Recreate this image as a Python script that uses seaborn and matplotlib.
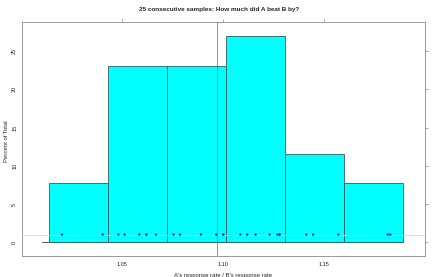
import numpy as np
import pandas as pd
import matplotlib
matplotlib.use("Agg")
import matplotlib.pyplot as plt
import seaborn as sns

# Data: 26 ratios (A's response rate / B's response rate)
ratios = [1.0203, 1.0404,
          1.0482, 1.0513, 1.0586, 1.0620, 1.0620, 1.0668,
          1.0755, 1.0787, 1.0891, 1.0967, 1.1001, 1.1001,
          1.1086, 1.1120, 1.1161, 1.1231, 1.1270, 1.1280, 1.1280,
          1.1412, 1.1446, 1.1571,
          1.1815, 1.1828]
ref_value = 1.097
x_ticks = [1.05, 1.10, 1.15]
y_ticks = [0, 5, 10, 15, 20, 25]
title = "25 consecutive samples: How much did A beat B by?"
xlabel = "A's response rate / B's response rate"
ylabel = "Percent of Total"

df = pd.DataFrame({"ratio": ratios})
lo, hi = min(ratios), max(ratios)
ext = 0.04 * (hi - lo)
edges = np.linspace(lo - ext, hi + ext, 7)

sns.set_style("white")
plt.rcParams['font.family'] = ['Liberation Sans', 'DejaVu Sans']

fig = plt.figure(figsize=(4.45, 2.77), dpi=100)
ax = fig.add_axes([22/445, 1 - 256/277, 403/445, 234/277])

# baseline segment
ax.plot([1.0105, edges[-1]], [0, 0], color="#333333", lw=0.6, zorder=1)
sns.histplot(data=df, x="ratio", bins=edges, stat="percent", color="#00FFFF",
             edgecolor="#2f5f5f", linewidth=0.6, alpha=1, ax=ax, zorder=2)
ax.axhline(1, color="#d8d8d8", lw=0.6, zorder=3)
sns.scatterplot(x=ratios, y=[1] * len(ratios), color="#2020ff", s=3,
                edgecolor="none", ax=ax, zorder=4)
ax.axvline(ref_value, color="#ff3030", lw=0.7, zorder=5, alpha=0.75)

ax.set_xlim(1.0005, 1.2)
ax.set_ylim(-1.8, 28.8)
ax.set_xticks(x_ticks)
ax.set_xticklabels([f"{t:.2f}" for t in x_ticks])
ax.set_yticks(y_ticks)
ax.set_yticklabels([str(t) for t in y_ticks])
ax.tick_params(axis="both", which="both", direction="out", length=2.5, width=0.5,
               labelsize=4, colors="#888888", labelcolor="#222222", pad=2,
               top=True, right=True, labeltop=False, labelright=False)
ax.tick_params(axis="y", labelrotation=90, pad=1)
for t in ax.get_yticklabels():
    t.set_va("center")
for s in ax.spines.values():
    s.set_color("#999999")
    s.set_linewidth(0.7)

ax.set_xlabel(xlabel, fontsize=4.3, labelpad=4)
ax.set_ylabel(ylabel, fontsize=4.3, labelpad=3)
ax.yaxis.set_label_coords(-13/403, 0.49)
fig.text(219/445, 1 - 9.5/277, title, ha="center", va="center",
         fontsize=4.6, fontweight="bold")

fig.savefig("out.png", dpi=100, facecolor="white")
